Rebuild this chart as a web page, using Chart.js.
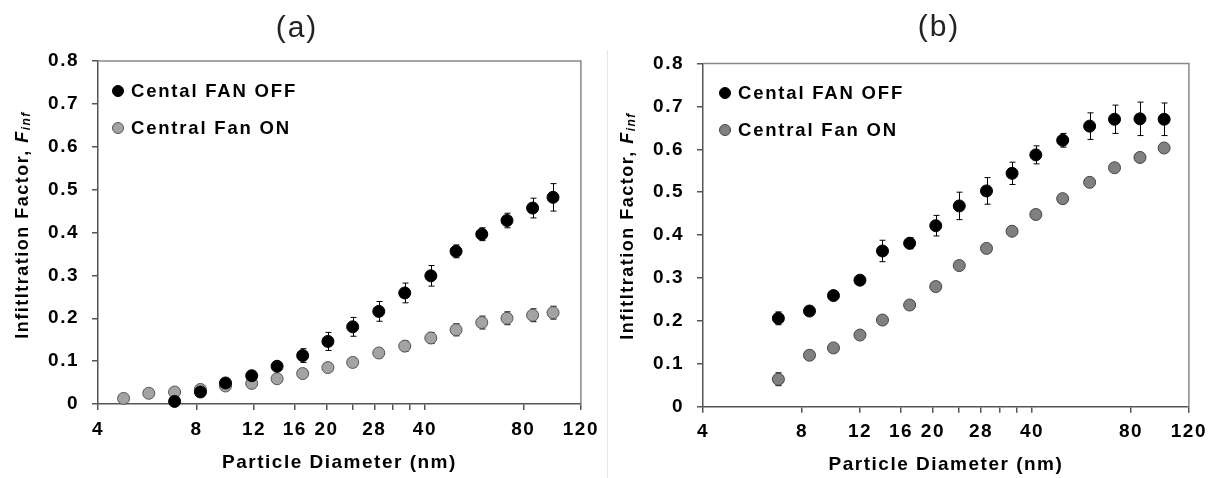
<!DOCTYPE html>
<html>
<head>
<meta charset="utf-8">
<script src="https://cdn.jsdelivr.net/npm/chart.js@4.4.1/dist/chart.umd.min.js"></script>
<style>
  html, body { margin: 0; padding: 0; background: #fff; }
  #wrap { position: relative; width: 1215px; height: 478px; overflow: hidden; }
  .panel { position: absolute; top: 0; width: 607px; height: 478px; }
  #divider { position: absolute; left: 607px; top: 50px; width: 1px; height: 428px; background: #e6e6e6; }
</style>
</head>
<body>
<div id="wrap">
  <div class="panel" style="left:0"><canvas id="chartA"></canvas></div>
  <div id="divider"></div>
  <div class="panel" style="left:608px"><canvas id="chartB"></canvas></div>
</div>
<script>
const xTickValues = [4, 8, 12, 16, 20, 24, 28, 32, 36, 40, 80, 120];
const xTickLabels = ["4", "8", "12", "16", "20", "", "28", "", "", "40", "80", "120"];

// panel (a)
const aOffX = [6.86, 8.23, 9.82, 11.81, 14.12, 16.91, 20.2, 24.05, 28.9, 34.7, 41.7, 49.8, 59.7, 71.3, 85.4, 98.6];
const aOffY = [0.006, 0.028, 0.049, 0.066, 0.088, 0.113, 0.146, 0.18, 0.216, 0.259, 0.299, 0.356, 0.396, 0.428, 0.457, 0.482];
const aOffErr = [0.004, 0.005, 0.006, 0.007, 0.01, 0.016, 0.021, 0.022, 0.023, 0.023, 0.024, 0.015, 0.015, 0.017, 0.023, 0.032];
const aOnX = [4.79, 5.72, 6.86, 8.23, 9.82, 11.81, 14.12, 16.91, 20.2, 24.05, 28.9, 34.7, 41.7, 49.8, 59.7, 71.3, 85.4, 98.6];
const aOnY = [0.013, 0.025, 0.028, 0.034, 0.042, 0.048, 0.059, 0.071, 0.085, 0.097, 0.119, 0.135, 0.154, 0.173, 0.19, 0.2, 0.207, 0.213];
const aOnErr = [0.004, 0.004, 0.005, 0.005, 0.005, 0.006, 0.007, 0.008, 0.009, 0.01, 0.011, 0.012, 0.013, 0.014, 0.015, 0.015, 0.015, 0.015];

// panel (b)
const bX = [6.78, 8.43, 9.97, 12.0, 14.05, 16.99, 20.4, 24.05, 29.1, 34.8, 41.1, 49.6, 59.9, 71.3, 85.2, 100.9];
const bOffY = [0.206, 0.223, 0.259, 0.295, 0.363, 0.381, 0.422, 0.468, 0.503, 0.544, 0.587, 0.621, 0.654, 0.67, 0.671, 0.67];
const bOffErr = [0.015, 0.008, 0.007, 0.008, 0.025, 0.013, 0.024, 0.032, 0.031, 0.026, 0.021, 0.016, 0.031, 0.033, 0.039, 0.038];
const bOnY = [0.064, 0.12, 0.137, 0.167, 0.202, 0.237, 0.28, 0.329, 0.369, 0.409, 0.448, 0.485, 0.523, 0.557, 0.581, 0.603];
const bOnErr = [0.015, 0.005, 0.005, 0.005, 0.005, 0.005, 0.005, 0.005, 0.005, 0.006, 0.006, 0.006, 0.006, 0.006, 0.007, 0.007];

const seriesLabels = ["Cental FAN OFF", "Central Fan ON"];

const FONT = "'Liberation Sans', Arial, sans-serif";

const spacing = {
  id: "spacing",
  beforeLayout(chart) { chart.ctx.letterSpacing = "1.5px"; },
  beforeDraw(chart) { chart.ctx.letterSpacing = "1.5px"; },
};

const errorBars = {
  id: "errorBars",
  beforeDatasetsDraw(chart) {
    const { ctx, scales: { x, y } } = chart;
    ctx.save();
    ctx.strokeStyle = "#000";
    ctx.lineWidth = 1;
    chart.data.datasets.forEach((ds) => {
      ds.data.forEach((p, i) => {
        const e = ds.errors[i];
        const px = Math.round(x.getPixelForValue(p.x)) + 0.5;
        const y0 = y.getPixelForValue(p.y - e);
        const y1 = y.getPixelForValue(p.y + e);
        ctx.beginPath();
        ctx.moveTo(px, y0); ctx.lineTo(px, y1);
        ctx.moveTo(px - 3, y0); ctx.lineTo(px + 3, y0);
        ctx.moveTo(px - 3, y1); ctx.lineTo(px + 3, y1);
        ctx.stroke();
      });
    });
    ctx.restore();
  },
};

const decor = {
  id: "decor",
  afterDraw(chart, args, opts) {
    const { ctx, chartArea: a } = chart;
    ctx.save();
    ctx.strokeStyle = "#888";
    ctx.lineWidth = 1.5;
    ctx.beginPath();
    ctx.moveTo(a.left, a.top);
    ctx.lineTo(a.right, a.top);
    ctx.lineTo(a.right, a.bottom);
    ctx.stroke();

    // panel title
    ctx.letterSpacing = "2px";
    ctx.fillStyle = "#222";
    ctx.font = "30px " + FONT;
    ctx.textAlign = "center";
    ctx.textBaseline = "middle";
    ctx.fillText(opts.title, opts.titleX, opts.titleY);

    // y axis title with italic subscript
    ctx.letterSpacing = "1.5px";
    const main = "Infitltration Factor, ";
    const fMain = "bold 18px " + FONT;
    const fItal = "italic bold 18px " + FONT;
    const fSub = "italic bold 12px " + FONT;
    ctx.font = fMain; const w1 = ctx.measureText(main).width;
    ctx.font = fItal; const w2 = ctx.measureText("F").width;
    ctx.font = fSub; const w3 = ctx.measureText("inf").width;
    const total = w1 + w2 + w3;
    ctx.translate(opts.yTitleX, opts.yTitleY);
    ctx.rotate(-Math.PI / 2);
    ctx.textAlign = "left";
    ctx.fillStyle = "#000";
    let tx = -total / 2;
    ctx.font = fMain; ctx.fillText(main, tx, 0); tx += w1;
    ctx.font = fItal; ctx.fillText("F", tx, 0); tx += w2;
    ctx.font = fSub; ctx.fillText("inf", tx, 4);
    ctx.setTransform(1, 0, 0, 1, 0, 0);

    // legend
    chart.data.datasets.forEach((ds, i) => {
      const cy = opts.legendY + i * opts.legendGap;
      ctx.beginPath();
      ctx.arc(opts.legendX, cy, 5.5, 0, Math.PI * 2);
      ctx.fillStyle = ds.backgroundColor;
      ctx.fill();
      ctx.strokeStyle = ds.borderColor;
      ctx.lineWidth = 1;
      ctx.stroke();
      ctx.fillStyle = "#000";
      ctx.font = "bold 18.5px " + FONT;
      ctx.textAlign = "left";
      ctx.textBaseline = "middle";
      ctx.letterSpacing = "1.8px";
      ctx.fillText(ds.label, opts.legendX + 13, cy + 1);
    });
    ctx.restore();
  },
};

const pts = (xs, ys) => xs.map((x, i) => ({ x, y: ys[i] }));

function makeChart(id, cfg) {
  const tickFont = { family: FONT, size: 19, weight: "bold" };
  return new Chart(document.getElementById(id), {
    type: "scatter",
    data: {
      datasets: [
        {
          label: seriesLabels[0],
          data: cfg.off,
          errors: cfg.offErr,
          backgroundColor: "#000",
          borderColor: "#000",
          pointRadius: 6,
          pointBorderWidth: 1,
          clip: false,
        },
        {
          label: seriesLabels[1],
          data: cfg.on,
          errors: cfg.onErr,
          backgroundColor: cfg.grey,
          borderColor: cfg.greyEdge,
          pointRadius: 6,
          pointBorderWidth: 1,
          clip: false,
        },
      ],
    },
    options: {
      responsive: true,
      maintainAspectRatio: false,
      animation: false,
      events: [],
      layout: { padding: { left: 0, right: cfg.padRight, top: cfg.padTop, bottom: 0 } },
      plugins: {
        legend: { display: false },
        tooltip: { enabled: false },
        decor: cfg.decor,
      },
      scales: {
        x: {
          type: "logarithmic",
          min: 4,
          max: 120,
          afterBuildTicks: (s) => { s.ticks = xTickValues.map((v) => ({ value: v })); },
          afterFit: (s) => { s.height = cfg.xHeight; },
          ticks: {
            autoSkip: false,
            maxRotation: 0,
            padding: 8,
            color: "#000",
            font: tickFont,
            callback: (v, i) => xTickLabels[i],
          },
          grid: { drawOnChartArea: false, tickLength: 6, color: "#555", lineWidth: 1.5 },
          border: { color: "#555", width: 1.5 },
          title: {
            display: true,
            text: "Particle Diameter (nm)",
            color: "#000",
            font: { family: FONT, size: 19, weight: "bold" },
            padding: { top: 0, bottom: cfg.xTitlePad },
          },
        },
        y: {
          min: 0,
          max: 0.8,
          afterFit: (s) => { s.width = cfg.yWidth; },
          ticks: { stepSize: 0.1, padding: 13, color: "#000", font: tickFont },
          grid: { drawOnChartArea: false, tickLength: 6, color: "#555", lineWidth: 1.5 },
          border: { color: "#555", width: 1.5 },
        },
      },
    },
    plugins: [spacing, errorBars, decor],
  });
}

makeChart("chartA", {
  off: pts(aOffX, aOffY), offErr: aOffErr,
  on: pts(aOnX, aOnY), onErr: aOnErr,
  grey: "#a3a3a3", greyEdge: "#555",
  padRight: 18, padTop: 61, xHeight: 74, yWidth: 98, xTitlePad: 4,
  decor: { title: "(a)", titleX: 297, titleY: 29, yTitleX: 23, yTitleY: 225, legendX: 118, legendY: 91, legendGap: 37 },
});

makeChart("chartB", {
  off: pts(bX, bOffY), offErr: bOffErr,
  on: pts(bX, bOnY), onErr: bOnErr,
  grey: "#808080", greyEdge: "#444",
  padRight: 22, padTop: 63.5, xHeight: 71.3, yWidth: 95, xTitlePad: 2,
  decor: { title: "(b)", titleX: 331, titleY: 28, yTitleX: 20, yTitleY: 226, legendX: 117, legendY: 93, legendGap: 37 },
});
</script>
</body>
</html>
